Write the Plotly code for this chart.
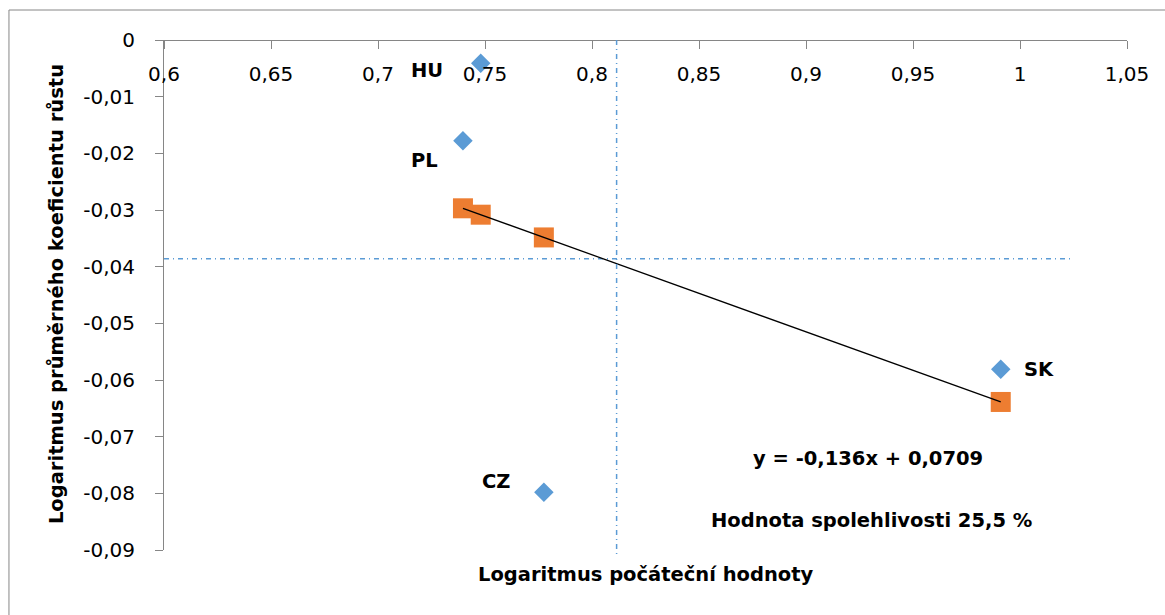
import plotly.graph_objects as go

# Country observations: log of initial value (x) vs. log of average growth coefficient (y)
countries = ["HU", "PL", "CZ", "SK"]
log_initial = [0.748, 0.7397, 0.7775, 0.991]
log_growth = [-0.0041, -0.0178, -0.0798, -0.0581]

# Linear trend y = -0,136x + 0,0709 and its fitted values
slope = -0.136
intercept = 0.0709
fitted = [slope * x + intercept for x in log_initial]

# Average guide lines (dash-dot)
mean_x = 0.8115
mean_y = -0.0386
mean_x_span = [0.6, 1.025]
mean_y_span = [0.0, -0.0913]

x_ticks = [0.6, 0.65, 0.7, 0.75, 0.8, 0.85, 0.9, 0.95, 1.0, 1.05]
x_tick_text = ["0,6", "0,65", "0,7", "0,75", "0,8", "0,85", "0,9", "0,95", "1", "1,05"]
y_ticks = [0, -0.01, -0.02, -0.03, -0.04, -0.05, -0.06, -0.07, -0.08, -0.09]
y_tick_text = ["0", "-0,01", "-0,02", "-0,03", "-0,04", "-0,05", "-0,06", "-0,07", "-0,08", "-0,09"]

equation_text = "y = -0,136x + 0,0709"
r2_text = "Hodnota spolehlivosti 25,5 %"
x_title = "Logaritmus počáteční hodnoty"
y_title = "Logaritmus průměrného koeficientu růstu"

FONT = "DejaVu Sans"
BLUE = "#5B9BD5"
ORANGE = "#ED7D31"
AXIS = "#868686"
X_RANGE = [0.6, 1.05]
Y_RANGE = [-0.09, 0.0]
GUIDE = dict(color=BLUE, width=1.5, dash="5px,4px,1px,4px")

fig = go.Figure()

# horizontal average line
fig.add_trace(go.Scatter(
    x=mean_x_span, y=[mean_y, mean_y], mode="lines",
    line=GUIDE, hoverinfo="skip", showlegend=False,
))

fig.add_trace(go.Scatter(
    x=log_initial, y=log_growth, mode="markers",
    marker=dict(symbol="diamond", size=15, color=BLUE, line=dict(width=0)),
    showlegend=False,
))
fig.add_trace(go.Scatter(
    x=log_initial, y=fitted, mode="markers",
    marker=dict(symbol="square", size=20, color=ORANGE, line=dict(width=0)),
    showlegend=False,
))

# trend line across the data range
x_lo, x_hi = min(log_initial), max(log_initial)
fig.add_trace(go.Scatter(
    x=[x_lo, x_hi], y=[slope * x_lo + intercept, slope * x_hi + intercept],
    mode="lines", line=dict(color="black", width=1.3),
    hoverinfo="skip", showlegend=False,
))


def to_paper_y(v):
    return (v - Y_RANGE[0]) / (Y_RANGE[1] - Y_RANGE[0])


shapes = [
    # vertical average line, allowed to run slightly below the plot area
    dict(type="line", xref="x", yref="paper",
         x0=mean_x, x1=mean_x,
         y0=to_paper_y(mean_y_span[0]), y1=to_paper_y(mean_y_span[1]),
         line=GUIDE),
    # chart area frame
    dict(type="line", xref="paper", yref="paper",
         x0=-0.161, x1=-0.161, y0=-0.2, y1=1.0588,
         line=dict(color=AXIS, width=1)),
    dict(type="line", xref="paper", yref="paper",
         x0=-0.161, x1=1.1, y0=1.0588, y1=1.0588,
         line=dict(color=AXIS, width=1)),
]

label_font = dict(family=FONT, size=19.5, color="black", weight="bold")
label_shift = {"HU": (-54, -7), "PL": (-38, -20), "CZ": (-48, 11), "SK": (38, 0)}

annotations = []
for name, x, y in zip(countries, log_initial, log_growth):
    dx, dy = label_shift[name]
    annotations.append(dict(
        x=x, y=y, xref="x", yref="y", text=name, showarrow=False,
        xshift=dx, yshift=dy, font=label_font,
        xanchor="center", yanchor="middle",
    ))

annotations += [
    dict(x=0.731, y=0.180, xref="paper", yref="paper", text=equation_text,
         showarrow=False, font=label_font, xanchor="center", yanchor="middle"),
    dict(x=0.735, y=0.0588, xref="paper", yref="paper", text=r2_text,
         showarrow=False, font=label_font, xanchor="center", yanchor="middle"),
    dict(x=0.5, y=-0.049, xref="paper", yref="paper", text=x_title,
         showarrow=False, font=label_font, xanchor="center", yanchor="middle"),
    dict(x=-0.111, y=0.502, xref="paper", yref="paper", text=y_title,
         showarrow=False, textangle=-90, font=label_font,
         xanchor="center", yanchor="middle"),
]

fig.update_layout(
    width=1165, height=615,
    margin=dict(l=164, r=38, t=40, b=65),
    paper_bgcolor="white", plot_bgcolor="white",
    font=dict(family=FONT, size=20, color="black"),
    shapes=shapes,
    annotations=annotations,
    xaxis=dict(
        # x axis crosses at y = 0, i.e. along the top of the plot area,
        # with ticks and labels hanging below it
        range=X_RANGE, side="bottom", anchor="free", position=1.0,
        tickvals=x_ticks, ticktext=x_tick_text,
        ticks="outside", ticklen=8, tickcolor=AXIS, tickwidth=1,
        ticklabelstandoff=8,
        showline=True, linecolor=AXIS, linewidth=1,
        showgrid=False, zeroline=False,
    ),
    yaxis=dict(
        range=Y_RANGE, tickvals=y_ticks, ticktext=y_tick_text,
        ticks="outside", ticklen=8, tickcolor=AXIS, tickwidth=1,
        ticklabelstandoff=16,
        showline=True, linecolor=AXIS, linewidth=1,
        showgrid=False, zeroline=False,
    ),
)

fig.write_html("out.html")
